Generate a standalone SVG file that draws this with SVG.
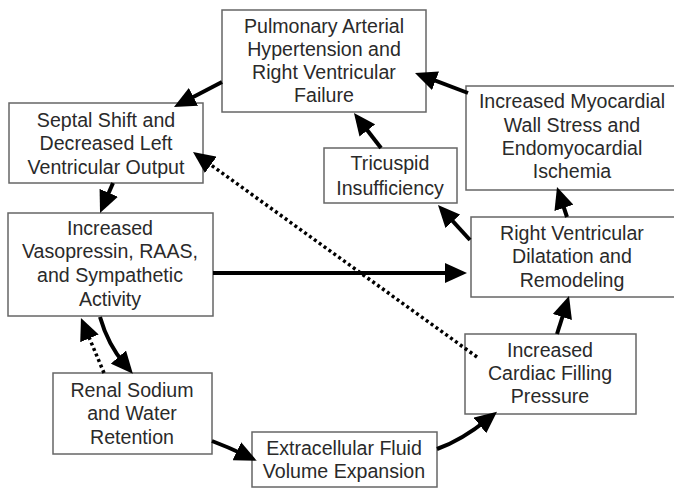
<svg xmlns="http://www.w3.org/2000/svg" width="674" height="490" viewBox="0 0 674 490">
<defs>
<marker id="ah" viewBox="0 0 22 20" refX="10" refY="10" markerWidth="22" markerHeight="20" markerUnits="userSpaceOnUse" orient="auto">
<path d="M0,0 L22,10 L0,20 Z" fill="#000"/>
</marker>
<style>
.box{fill:#fff;stroke:#666;stroke-width:1.5}
.t{font-family:"Liberation Sans",Arial,sans-serif;font-size:19.6px;fill:#2a2a2a;text-anchor:middle}
.c{fill:none;stroke:#000;stroke-width:4;marker-end:url(#ah)}
.d{fill:none;stroke:#000;stroke-width:3.5;stroke-dasharray:3 3;marker-end:url(#ah)}
</style>
</defs>
<rect width="674" height="490" fill="#fff"/>
<g id="pulmonary">
<rect class="box" x="222" y="10" width="204" height="102"/>
<text class="t" x="324" y="33">Pulmonary Arterial</text>
<text class="t" x="324" y="56">Hypertension and</text>
<text class="t" x="324" y="79">Right Ventricular</text>
<text class="t" x="324" y="102">Failure</text>
</g>
<g id="septal">
<rect class="box" x="9" y="103" width="194" height="80"/>
<text class="t" x="106" y="127">Septal Shift and</text>
<text class="t" x="106" y="150">Decreased Left</text>
<text class="t" x="106" y="174">Ventricular Output</text>
</g>
<g id="vasopressin">
<rect class="box" x="8" y="213" width="205" height="103"/>
<text class="t" x="110" y="235">Increased</text>
<text class="t" x="110" y="258">Vasopressin, RAAS,</text>
<text class="t" x="110" y="282">and Sympathetic</text>
<text class="t" x="110" y="306">Activity</text>
</g>
<g id="renal">
<rect class="box" x="53" y="373" width="159" height="81"/>
<text class="t" x="132" y="397">Renal Sodium</text>
<text class="t" x="132" y="420">and Water</text>
<text class="t" x="132" y="444">Retention</text>
</g>
<g id="extracellular">
<rect class="box" x="252" y="432" width="185" height="55"/>
<text class="t" x="344" y="455">Extracellular Fluid</text>
<text class="t" x="344" y="478">Volume Expansion</text>
</g>
<g id="filling">
<rect class="box" x="465" y="334" width="171" height="80"/>
<text class="t" x="550" y="357">Increased</text>
<text class="t" x="550" y="380">Cardiac Filling</text>
<text class="t" x="550" y="403">Pressure</text>
</g>
<g id="dilatation">
<rect class="box" x="471" y="217" width="210" height="80"/>
<text class="t" x="572" y="240">Right Ventricular</text>
<text class="t" x="572" y="263">Dilatation and</text>
<text class="t" x="572" y="287">Remodeling</text>
</g>
<g id="myocardial">
<rect class="box" x="466" y="86" width="215" height="104"/>
<text class="t" x="572" y="108">Increased Myocardial</text>
<text class="t" x="572" y="132">Wall Stress and</text>
<text class="t" x="572" y="155">Endomyocardial</text>
<text class="t" x="572" y="178">Ischemia</text>
</g>
<g id="tricuspid">
<rect class="box" x="324" y="148" width="133" height="55"/>
<text class="t" x="390" y="170">Tricuspid</text>
<text class="t" x="390" y="195">Insufficiency</text>
</g>
<g id="connectors">
<path class="c" d="M222,82 L184.6,101.5"/>
<path class="c" d="M113,183 L104.8,202"/>
<path class="c" d="M100,317 Q108,345 125,364.6"/>
<path class="d" d="M104,373 L85.6,329.1"/>
<path class="c" d="M212,441 Q228,447 245.9,455.5"/>
<path class="c" d="M437,449 Q462,440 487.7,419.2"/>
<path class="c" d="M557,334 L565.4,307.5"/>
<path class="c" d="M213,273 L455,273"/>
<path class="d" d="M477,357 L202.7,159"/>
<path class="c" d="M567,217 L560.8,198.4"/>
<path class="c" d="M470,240 L446.1,213.9"/>
<path class="c" d="M381,148 L361.3,122.5"/>
<path class="c" d="M468,93 L426.2,77.2"/>
</g>
</svg>
